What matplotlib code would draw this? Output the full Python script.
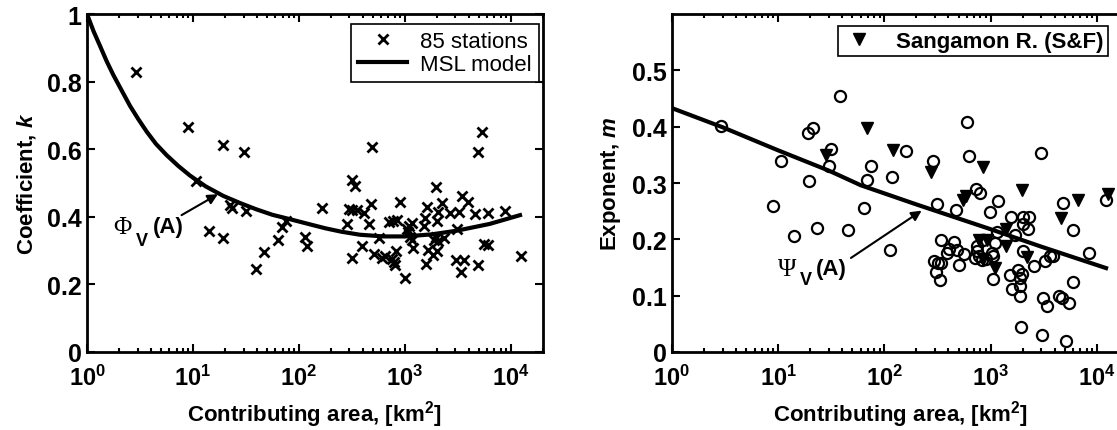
import matplotlib
matplotlib.use('Agg')
import numpy as np
import matplotlib.pyplot as plt
from matplotlib.ticker import FixedLocator, FuncFormatter, LogLocator, NullLocator

plt.rcParams['font.family'] = ['Liberation Sans', 'DejaVu Sans']
plt.rcParams['font.weight'] = 'bold'
plt.rcParams['mathtext.fontset'] = 'custom'
plt.rcParams['mathtext.rm'] = 'Liberation Sans:bold'
plt.rcParams['mathtext.bf'] = 'Liberation Sans:bold'
plt.rcParams['mathtext.it'] = 'Liberation Sans:italic:bold'

# --- левая панель: коэффициент k по 85 станциям ---
st_area = [2.9, 9.0, 19, 30, 10.7, 320, 335, 5300, 4900, 485, 1950, 3450,
           22.4, 23.2, 32, 14.3, 19.3, 39, 46.7, 63.8, 68.7, 75.4, 114, 120,
           164, 286, 314, 298, 320, 350, 410, 474, 460, 398, 510, 572, 602,
           648, 710, 776, 835, 897, 748, 787, 805, 822, 1000, 1038, 1097,
           1164, 1072, 1114, 1156, 1180, 1550, 1600, 1530, 2050, 1990, 2240,
           2640, 3100, 3250, 3960, 4580, 6110, 8780, 1660, 1850, 1990, 1880,
           1960, 2060, 2330, 1580, 3030, 3600, 3350, 4900, 5560, 6110, 12400]
st_k = [0.83, 0.666, 0.613, 0.591, 0.507, 0.509, 0.492, 0.652, 0.591, 0.607,
        0.487, 0.462, 0.435, 0.425, 0.418, 0.359, 0.336, 0.247, 0.295, 0.331,
        0.369, 0.388, 0.341, 0.315, 0.425, 0.379, 0.277, 0.423, 0.421, 0.420,
        0.41, 0.438, 0.379, 0.315, 0.29, 0.336, 0.277, 0.283, 0.386, 0.389,
        0.392, 0.443, 0.275, 0.267, 0.257, 0.30, 0.218, 0.364, 0.374, 0.381,
        0.354, 0.339, 0.332, 0.307, 0.398, 0.428, 0.374, 0.413, 0.388, 0.44,
        0.41, 0.364, 0.415, 0.443, 0.408, 0.41, 0.416, 0.303, 0.287, 0.30,
        0.332, 0.339, 0.329, 0.336, 0.26, 0.273, 0.273, 0.236, 0.257, 0.32,
        0.318, 0.285]

# кривая MSL (Phi_V(A)), точки
msl_area = [1, 1.15, 1.33, 1.53, 1.77, 2.14, 2.55, 3.05, 3.66, 4.47, 5.62,
            7.24, 9.38, 13.2, 19.3, 28.2, 39.8, 56.2, 82.2, 126, 178, 251,
            376, 631, 1000, 1780, 3090, 6310, 12200]
msl_k = [1.0, 0.95, 0.905, 0.861, 0.82, 0.772, 0.728, 0.689, 0.652, 0.616,
         0.583, 0.551, 0.522, 0.49, 0.462, 0.44, 0.422, 0.406, 0.393, 0.378,
         0.366, 0.356, 0.347, 0.342, 0.342, 0.348, 0.359, 0.379, 0.405]

# --- правая панель: показатель m ---
circ_area = [2.9, 10.6, 19.6, 18.9, 21.4, 38, 31.3, 30, 68, 74, 159, 118, 284,
             603, 627, 2960, 735, 802, 8.9, 14.1, 23, 45.8, 64, 114, 314, 470,
             1170, 980, 1570, 2020, 2300, 2020, 2240, 1160, 1690, 340, 453, 406,
             392, 478, 562, 292, 320, 344, 305, 332, 503, 738, 752, 770, 712,
             830, 910, 1040, 1050, 1097, 850, 1043, 1515, 1820, 1960, 1885, 1885,
             1575, 1885, 2025, 2550, 3240, 3610, 3830, 3120, 3410, 4420, 4650,
             5490, 5900, 5900, 4750, 8470, 12200, 1930, 3060, 5100]
circ_m = [0.401, 0.340, 0.303, 0.389, 0.397, 0.455, 0.361, 0.33, 0.305, 0.33,
          0.356, 0.311, 0.339, 0.409, 0.348, 0.354, 0.289, 0.283, 0.259, 0.206,
          0.22, 0.217, 0.256, 0.181, 0.263, 0.253, 0.268, 0.249, 0.24, 0.24,
          0.24, 0.228, 0.219, 0.213, 0.208, 0.198, 0.195, 0.183, 0.176, 0.181,
          0.174, 0.162, 0.158, 0.158, 0.142, 0.128, 0.154, 0.189, 0.180, 0.171,
          0.167, 0.164, 0.165, 0.176, 0.170, 0.194, 0.198, 0.13, 0.137, 0.145,
          0.139, 0.131, 0.118, 0.112, 0.099, 0.180, 0.152, 0.162, 0.170, 0.170,
          0.096, 0.081, 0.10, 0.096, 0.087, 0.124, 0.217, 0.265, 0.176, 0.270,
          0.045, 0.031, 0.020]

sang_area = [28, 68, 121, 273, 850, 1970, 585, 545, 6600, 12600, 4580, 1410,
             1410, 780, 916, 851, 1097, 2200]
sang_m = [0.349, 0.398, 0.358, 0.319, 0.329, 0.288, 0.277, 0.269, 0.27, 0.281,
          0.238, 0.219, 0.189, 0.198, 0.199, 0.165, 0.149, 0.168]

psi_area = [1, 3, 10, 30, 60, 200, 1000, 3000, 12200]
psi_m = [0.433, 0.399, 0.358, 0.322, 0.296, 0.262, 0.218, 0.187, 0.149]


def pow10(x, pos):
    return r'$\mathbf{10^{%d}}$' % int(round(np.log10(x)))


def style_axes(ax):
    ax.set_xscale('log')
    ax.set_xlim(1, 2e4)
    ax.xaxis.set_major_locator(FixedLocator([1, 10, 100, 1000, 10000]))
    ax.xaxis.set_major_formatter(FuncFormatter(pow10))
    ax.xaxis.set_minor_locator(LogLocator(base=10, subs=np.arange(2, 10), numticks=20))
    ax.yaxis.set_minor_locator(NullLocator())
    ax.tick_params(which='both', direction='in', top=True, right=True, width=1.5)
    ax.tick_params(axis='x', pad=9, labelsize=17)
    ax.tick_params(axis='y', pad=4, labelsize=18)
    ax.tick_params(which='major', length=6)
    ax.tick_params(which='minor', length=3)
    for sp in ax.spines.values():
        sp.set_linewidth(2)
    ax.set_xlabel(r'Contributing area, [km$^{\mathbf{2}}$]', fontsize=16,
                  fontweight='bold', labelpad=6)


fig = plt.figure(figsize=(11.17, 4.31), dpi=100)
ax1 = fig.add_axes([0.0779, 0.181, 0.408, 0.784])
ax2 = fig.add_axes([0.6016, 0.181, 0.409, 0.784])

# левая
ax1.plot(st_area, st_k, 'x', color='k', markersize=7, markeredgewidth=2,
         label='85 stations')
ax1.plot(msl_area, msl_k, '-', color='k', linewidth=3, label='MSL model')
style_axes(ax1)
ax1.set_ylim(0, 1)
ax1.set_yticks([0, 0.2, 0.4, 0.6, 0.8, 1])
ax1.set_yticklabels(['0', '0.2', '0.4', '0.6', '0.8', '1'])
ax1.set_ylabel(r'Coefficient, $k$', fontsize=16, fontweight='bold', labelpad=6)
leg1 = ax1.legend(loc='upper right', bbox_to_anchor=(0.991, 0.970),
                  fancybox=False, framealpha=1, edgecolor='k', borderaxespad=0,
                  prop={'weight': 'normal', 'size': 16}, handlelength=2.2,
                  handletextpad=0.6, borderpad=0.3, labelspacing=0.1)
leg1.get_frame().set_linewidth(1.2)

ax1.annotate('', xy=(17.2, 0.467), xytext=(7.8, 0.405),
             arrowprops=dict(arrowstyle='-|>', color='k', lw=1.5,
                             mutation_scale=15, shrinkA=0, shrinkB=0))
ax1.text(1.75, 0.37, 'Φ', family='Liberation Serif', fontweight='normal',
         fontsize=18, va='center', ha='left')
ax1.text(2.9, 0.33, 'V', fontsize=13, fontweight='bold', va='center', ha='left')
ax1.text(4.15, 0.37, '(A)', fontsize=16, fontweight='bold', va='center', ha='left')

# правая
ax2.plot(circ_area, circ_m, 'o', markerfacecolor='none', markeredgecolor='k',
         markersize=8, markeredgewidth=1.6)
ax2.plot(sang_area, sang_m, 'v', color='k', markersize=9,
         label='Sangamon R. (S&F)')
ax2.plot(psi_area, psi_m, '-', color='k', linewidth=3)
style_axes(ax2)
ax2.set_ylim(0, 0.6)
ax2.set_yticks([0, 0.1, 0.2, 0.3, 0.4, 0.5])
ax2.set_yticklabels(['0', '0.1', '0.2', '0.3', '0.4', '0.5'])
ax2.set_ylabel(r'Exponent, $m$', fontsize=16, fontweight='bold', labelpad=6)
leg2 = ax2.legend(loc='upper right', bbox_to_anchor=(0.954, 0.964),
                  fancybox=False, framealpha=1, edgecolor='k', borderaxespad=0,
                  prop={'weight': 'bold', 'size': 16}, handlelength=1.5,
                  handletextpad=0.9, borderpad=0.2)
leg2.get_frame().set_linewidth(1.2)

ax2.annotate('', xy=(224, 0.251), xytext=(48.4, 0.167),
             arrowprops=dict(arrowstyle='-|>', color='k', lw=1.5,
                             mutation_scale=15, shrinkA=0, shrinkB=0))
ax2.text(10.0, 0.148, 'Ψ', family='Liberation Serif', fontweight='normal',
         fontsize=18, va='center', ha='left')
ax2.text(16, 0.128, 'V', fontsize=13, fontweight='bold', va='center', ha='left')
ax2.text(22.8, 0.148, '(A)', fontsize=16, fontweight='bold', va='center', ha='left')

fig.savefig('out.png', dpi=100)
